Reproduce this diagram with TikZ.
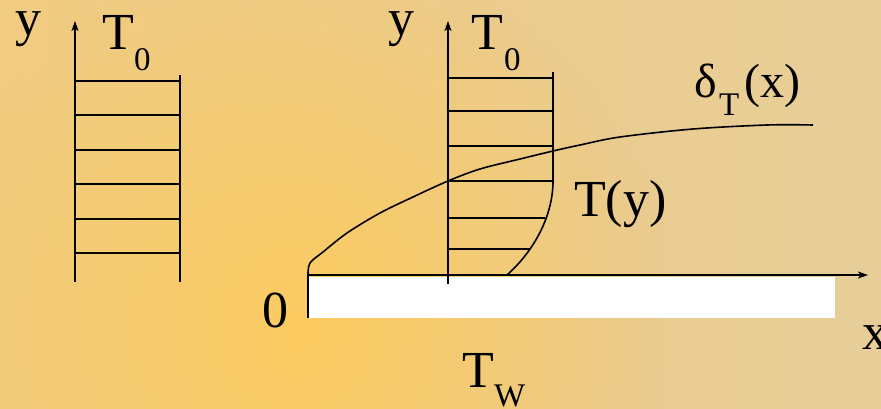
\documentclass[tikz,border=0pt]{standalone}
\usepackage{fontspec}
\setmainfont{Liberation Serif}
\usetikzlibrary{arrows.meta,fadings}
\definecolor{bgleft}{RGB}{240,203,128}
\definecolor{bgright}{RGB}{231,205,152}
\definecolor{glow}{RGB}{252,203,96}
\tikzfading[name=glowfade, inner color=transparent!0, outer color=transparent!100]
\tikzset{
  ln/.style={line width=1.6pt, black},
  axis/.style={line width=1.6pt, black, -{Stealth[length=10pt,width=7pt,inset=2.5pt]}},
  big/.style={inner sep=0pt, anchor=base west, font=\fontsize{52}{52}\selectfont},
  med/.style={inner sep=0pt, anchor=base west, font=\fontsize{48}{48}\selectfont},
  sub/.style={inner sep=0pt, anchor=base west, font=\fontsize{33}{33}\selectfont},
  lowy/.style={text height=0.48em, text depth=0.22em},
}
\begin{document}
\begin{tikzpicture}[x=1pt,y=-1pt]
\useasboundingbox (0,0) rectangle (881,408);
% background
\fill[left color=bgleft, right color=bgright] (0,0) rectangle (881,408);
\fill[glow, path fading=glowfade] (300,330) circle[radius=380pt];

% ---- left profile ----
\coordinate (la0) at (75,282);
\coordinate (la1) at (75,21);
\draw[axis] (la0) -- (la1);
\draw[ln] (180,75) -- (180,282);
\foreach \yy in {81,115,150,184,219,253}
  \draw[ln] (75,\yy) -- (180,\yy);
\node[big, lowy] (ly) at (15,35) {y};
\node[big] (lT) at (102,49) {T};
\node[sub] (l0) at (134,70) {0};

% ---- plate ----
\fill[white] (308,277) rectangle (835,318);
\draw[ln] (308,275) -- (308,318);
\coordinate (xo) at (308,275);
\coordinate (xe) at (868,275);
\draw[axis] (xo) -- (xe);

% ---- right profile ----
\coordinate (ra0) at (448,284);
\coordinate (ra1) at (448,21);
\draw[axis] (ra0) -- (ra1);
\draw[ln] (553,72) -- (553,181);
\foreach \yy in {78,111,146,181}
  \draw[ln] (448,\yy) -- (553,\yy);
\draw[ln] (448,218) -- (545,218);
\draw[ln] (448,249) -- (530,249);
\draw[ln] (553,181) .. controls (553,215) and (535,250) .. (507,275);

% ---- boundary layer ----
\draw[ln, line join=round] plot[smooth, tension=0.55] coordinates {(308,275) (310,263) (323,252) (347,233) (380,213) (413,197) (448,181) (480,169) (520,159) (553,151) (580,145) (620,137) (693,129) (767,125) (813,125)};

% ---- labels ----
\node[big, lowy] (ry) at (388,35) {y};
\node[big] (rT) at (471,49) {T};
\node[sub] (r0) at (504,70) {0};
\node[med] (dl) at (694,97) {δ};
\node[sub] (dT) at (719,115) {T};
\node[med] (dx) at (744,97) {(x)};
\node[big] (Ty) at (574,216) {T(y)};
\node[big] (zero) at (262,327) {0};
\node[big] (xl) at (862,349) {x};
\node[big] (TW) at (462,387) {T};
\node[sub] (W) at (494,406) {W};
\end{tikzpicture}
\end{document}
